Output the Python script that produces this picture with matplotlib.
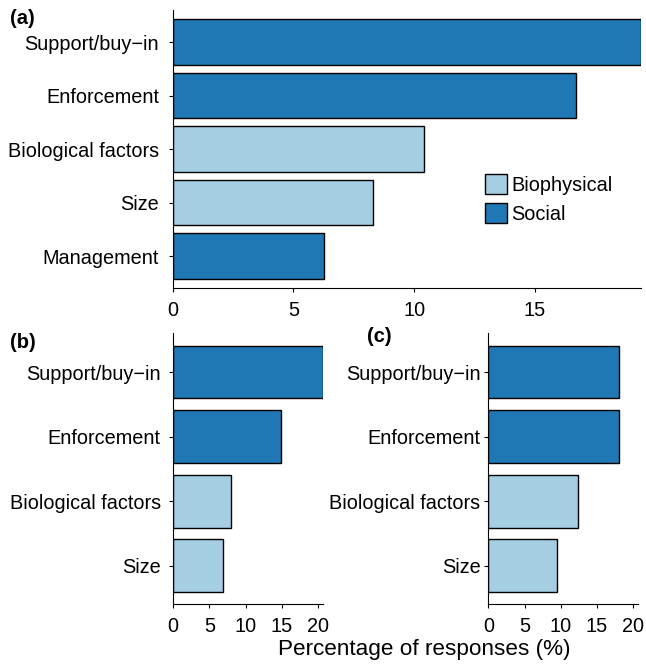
import matplotlib
matplotlib.use("Agg")
import matplotlib.pyplot as plt
from matplotlib.patches import Patch

plt.rcParams['font.family'] = ['Liberation Sans', 'DejaVu Sans']

# ---- data ----
cats_a = ["Support/buy\u2212in", "Enforcement", "Biological factors", "Size", "Management"]
vals_a = [19.4, 16.7, 10.4, 8.3, 6.25]
types_a = ["Social", "Social", "Biophysical", "Biophysical", "Social"]

cats_bc = ["Support/buy\u2212in", "Enforcement", "Biological factors", "Size"]
vals_b = [20.7, 14.9, 8.05, 6.9]
vals_c = [18.1, 18.1, 12.4, 9.5]
types_bc = ["Social", "Social", "Biophysical", "Biophysical"]

ticks_a = [0, 5, 10, 15]
ticks_bc = [0, 5, 10, 15, 20]

colors = {"Biophysical": "#A6CEE3", "Social": "#1F78B4"}

W, H = 646, 669
fig = plt.figure(figsize=(W / 100, H / 100), dpi=100)


def px_axes(l, t, r, b):
    return fig.add_axes([l / W, 1 - b / H, (r - l) / W, (b - t) / H])


def draw(ax, cats, vals, types, ticks, xmax, width, ypad):
    n = len(cats)
    pos = list(range(n, 0, -1))
    ax.barh(pos, vals, height=width, color=[colors[t] for t in types],
            edgecolor="black", linewidth=1.0, zorder=2)
    ax.set_ylim(0.4, n + 0.6)
    ax.set_xlim(0, xmax)
    ax.set_yticks(pos)
    ax.set_yticklabels(cats)
    ax.set_xticks(ticks)
    for s in ["top", "right"]:
        ax.spines[s].set_visible(False)
    for s in ["left", "bottom"]:
        ax.spines[s].set_linewidth(0.8)
        ax.spines[s].set_color("black")
    ax.tick_params(axis="y", length=2.7, width=0.8, pad=ypad, labelsize=14.3, colors="black")
    ax.tick_params(axis="x", length=2.7, width=0.8, pad=6.5, labelsize=14.3, colors="black")


ax_a = px_axes(172.7, 10, 641, 288.3)
draw(ax_a, cats_a, vals_a, types_a, ticks_a, max(vals_a), 0.85, 7)

ax_b = px_axes(173, 333.3, 323.3, 604.3)
xmax_bc = max(max(vals_b), max(vals_c))
draw(ax_b, cats_bc, vals_b, types_bc, ticks_bc, xmax_bc, 0.82, 6.2)

ax_c = px_axes(488.3, 333.3, 638.3, 604.3)
draw(ax_c, cats_bc, vals_c, types_bc, ticks_bc, xmax_bc, 0.82, 2.9)

handles = [Patch(facecolor=colors[k], edgecolor="black", linewidth=1.0, label=k)
           for k in ["Biophysical", "Social"]]
fig.legend(handles=handles, loc="upper left",
           bbox_to_anchor=(484.6 / W, 1 - 174 / H), bbox_transform=fig.transFigure,
           frameon=False, fontsize=14.3, handlelength=1.14, handleheight=1.14,
           handletextpad=0.22, labelspacing=0.45, borderpad=0, borderaxespad=0)

fig.text(10 / W, 1 - 18 / H, "(a)", fontsize=14.5, fontweight="bold", va="center", ha="left")
fig.text(10 / W, 1 - 342 / H, "(b)", fontsize=14.5, fontweight="bold", va="center", ha="left")
fig.text(367 / W, 1 - 336 / H, "(c)", fontsize=14.5, fontweight="bold", va="center", ha="left")

fig.text(424.5 / W, 1 - 649 / H, "Percentage of responses (%)", fontsize=16.2,
         ha="center", va="center")

fig.savefig("out.png", dpi=100)
